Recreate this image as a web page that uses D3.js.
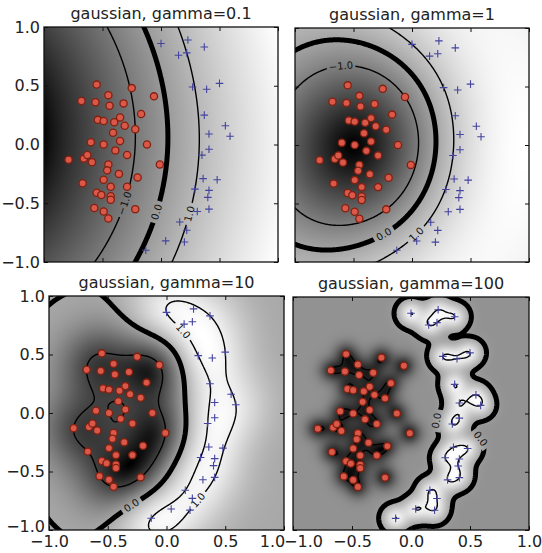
<!DOCTYPE html>
<html>
<head>
<meta charset="utf-8">
<script src="https://cdn.jsdelivr.net/npm/d3@7"></script>
<style>
  body { margin: 0; background: #fff; }
  svg { display: block; }
  text { font-family: "DejaVu Sans", sans-serif; }
</style>
</head>
<body>
<svg id="chart" width="542" height="553"></svg>
<script>
// class -1 points (red circles)
var negPoints = [
  [-0.55, 0.51], [-0.25, 0.48], [-0.68, 0.37], [-0.56, 0.36], [-0.45, 0.42],
  [-0.44, 0.33], [-0.32, 0.35], [-0.06, 0.41], [-0.17, 0.26], [-0.54, 0.21],
  [-0.49, 0.20], [-0.40, 0.19], [-0.35, 0.23], [-0.31, 0.16], [-0.22, 0.13],
  [-0.41, 0.10], [-0.35, 0.03], [-0.60, 0.02], [-0.49, 0.00], [-0.39, -0.05],
  [-0.12, 0.00], [-0.79, -0.13], [-0.66, -0.12], [-0.63, -0.09], [-0.59, -0.15],
  [-0.29, -0.09], [-0.45, -0.17], [-0.46, -0.22], [-0.36, -0.25], [-0.01, -0.17],
  [-0.67, -0.33], [-0.49, -0.30], [-0.43, -0.36], [-0.29, -0.36], [-0.20, -0.28],
  [-0.55, -0.41], [-0.51, -0.43], [-0.43, -0.44], [-0.43, -0.47], [-0.57, -0.54],
  [-0.49, -0.57], [-0.45, -0.63], [-0.22, -0.55]
];

// class +1 points (blue crosses)
var posPoints = [
  [0.00, 0.86], [0.23, 0.89], [0.37, 0.83], [0.15, 0.76], [0.22, 0.78],
  [0.27, 0.49], [0.39, 0.47], [0.50, 0.52], [0.37, 0.25], [0.55, 0.16],
  [0.59, 0.07], [0.41, 0.09], [0.41, -0.04], [0.35, -0.09], [0.36, -0.29],
  [0.48, -0.30], [0.29, -0.38], [0.41, -0.39], [0.40, -0.45], [0.41, -0.55],
  [0.31, -0.57], [0.16, -0.66], [0.22, -0.73], [0.04, -0.82], [0.20, -0.83],
  [-0.13, -0.90]
];

var gammas = [0.1, 1, 10, 100];
var tickValues = [-1, -0.5, 0, 0.5, 1];
var levels = [-1, 0, 1];
var C = 10;

// panel boxes in pixels + where the inline contour labels go (data coords)
var panels = [
  {x0: 44, x1: 278, y0: 27, y1: 262, xLab: false, yLab: true,
   clabels: [[-1, -0.41, -0.47], [0, -0.03, -0.58], [1, 0.27, -0.60]]},
  {x0: 295, x1: 529, y0: 28, y1: 262, xLab: false, yLab: false,
   clabels: [[-1, -0.60, 0.57], [0, -0.26, -0.73], [1, 0.01, -0.74]]},
  {x0: 49, x1: 284, y0: 296, y1: 530, xLab: true, yLab: true,
   clabels: [[1, 0.13, 0.69], [1, 0.26, -0.74], [0, -0.29, -0.80]]},
  {x0: 293, x1: 529, y0: 297, y1: 530, xLab: true, yLab: false,
   clabels: [[0, 0.21, -0.06], [0, 0.61, -0.20]]}
];

var X = negPoints.concat(posPoints);
var Y = negPoints.map(function() { return -1; }).concat(posPoints.map(function() { return 1; }));

// SMO (second order working set selection), returns decision function
function trainSVM(pts, ys, gamma, C) {
  var n = pts.length, K = [];
  for (var i = 0; i < n; i++) {
    K[i] = new Float64Array(n);
    for (var j = 0; j < n; j++) {
      var dx = pts[i][0] - pts[j][0], dy = pts[i][1] - pts[j][1];
      K[i][j] = Math.exp(-gamma * (dx * dx + dy * dy));
    }
  }
  var a = new Float64Array(n), u = new Float64Array(n);
  var Emin, Emax;
  for (var it = 0; it < 300000; it++) {
    var ii = -1, jj = -1, best = Infinity, t, e;
    Emin = Infinity; Emax = -Infinity;
    for (t = 0; t < n; t++) {
      if ((ys[t] === 1 && a[t] < C) || (ys[t] === -1 && a[t] > 0)) {
        e = u[t] - ys[t];
        if (e < Emin) { Emin = e; ii = t; }
      }
    }
    for (t = 0; t < n; t++) {
      if ((ys[t] === -1 && a[t] < C) || (ys[t] === 1 && a[t] > 0)) {
        e = u[t] - ys[t];
        if (e > Emax) Emax = e;
        var bb = e - Emin;
        if (bb > 0) {
          var aa = K[ii][ii] + K[t][t] - 2 * K[ii][t];
          if (aa <= 0) aa = 1e-12;
          var obj = -bb * bb / aa;
          if (obj < best) { best = obj; jj = t; }
        }
      }
    }
    if (jj < 0 || Emax - Emin < 1e-4) break;
    var yi = ys[ii], yj = ys[jj], ai = a[ii], aj = a[jj], L, H;
    if (yi !== yj) { L = Math.max(0, aj - ai); H = Math.min(C, C + aj - ai); }
    else { L = Math.max(0, ai + aj - C); H = Math.min(C, ai + aj); }
    var eta = K[ii][ii] + K[jj][jj] - 2 * K[ii][jj];
    if (eta <= 0) eta = 1e-12;
    var Ei = u[ii] - yi, Ej = u[jj] - yj;
    var ajn = Math.min(H, Math.max(L, aj + yj * (Ei - Ej) / eta));
    var ain = ai + yi * yj * (aj - ajn);
    a[ii] = ain; a[jj] = ajn;
    var di = yi * (ain - ai), dj = yj * (ajn - aj);
    for (t = 0; t < n; t++) u[t] += di * K[ii][t] + dj * K[jj][t];
  }
  var sum = 0, cnt = 0;
  for (var s = 0; s < n; s++) {
    if (a[s] > 1e-8 && a[s] < C - 1e-8) { sum += ys[s] - u[s]; cnt++; }
  }
  var b = cnt ? sum / cnt : -(Emin + Emax) / 2;
  var sv = [];
  for (s = 0; s < n; s++) if (a[s] > 1e-10) sv.push([pts[s][0], pts[s][1], a[s] * ys[s]]);
  return function(x, y) {
    var f = b;
    for (var k = 0; k < sv.length; k++) {
      var dx = x - sv[k][0], dy = y - sv[k][1];
      f += sv[k][2] * Math.exp(-gamma * (dx * dx + dy * dy));
    }
    return f;
  };
}

var svg = d3.select("#chart");
var defs = svg.append("defs");
var fmt = d3.format(".1f");

panels.forEach(function(p, k) {
  var gamma = gammas[k];
  var f = trainSVM(X, Y, gamma, C);
  var x = d3.scaleLinear().domain([-1, 1]).range([p.x0, p.x1]);
  var y = d3.scaleLinear().domain([-1, 1]).range([p.y1, p.y0]);
  var w = Math.round(p.x1 - p.x0), h = Math.round(p.y1 - p.y0);

  // background image of the decision function
  var vals = new Float64Array(w * h), zmin = Infinity, zmax = -Infinity;
  for (var r = 0; r < h; r++) {
    for (var c = 0; c < w; c++) {
      var v = f(x.invert(p.x0 + c + 0.5), y.invert(p.y0 + r + 0.5));
      vals[r * w + c] = v;
      if (v < zmin) zmin = v;
      if (v > zmax) zmax = v;
    }
  }
  // the scan is lighter in the mid tones than a linear gray ramp
  var norm = d3.scaleLinear().domain([zmin, zmax]).range([0, 1]).clamp(true);
  var tone = d3.scalePow().exponent(0.65).domain([0, 1]).range([0, 255]);
  var canvas = document.createElement("canvas");
  canvas.width = w; canvas.height = h;
  var ctx = canvas.getContext("2d");
  var img = ctx.createImageData(w, h);
  for (var q = 0; q < w * h; q++) {
    var g = Math.round(tone(norm(vals[q])));
    img.data[4 * q] = g; img.data[4 * q + 1] = g; img.data[4 * q + 2] = g; img.data[4 * q + 3] = 255;
  }
  ctx.putImageData(img, 0, 0);

  var panel = svg.append("g");
  defs.append("clipPath").attr("id", "clip" + k)
    .append("rect").attr("x", p.x0).attr("y", p.y0).attr("width", p.x1 - p.x0).attr("height", p.y1 - p.y0);

  panel.append("image")
    .attr("x", p.x0).attr("y", p.y0)
    .attr("width", p.x1 - p.x0).attr("height", p.y1 - p.y0)
    .attr("preserveAspectRatio", "none")
    .attr("href", canvas.toDataURL());

  // contours on a grid a bit larger than the box, clipped
  var n = 260, lo = -1.06, hi = 1.06, step = (hi - lo) / n;
  var grid = new Float64Array(n * n);
  for (var j = 0; j < n; j++)
    for (var i = 0; i < n; i++)
      grid[j * n + i] = f(lo + (i + 0.5) * step, hi - (j + 0.5) * step);
  var contours = d3.contours().size([n, n]).thresholds(levels)(grid);
  var toPx = function(pt) { return [x(lo + pt[0] * step), y(hi - pt[1] * step)]; };
  var path = d3.geoPath(d3.geoTransform({
    point: function(px, py) { var q2 = toPx([px, py]); this.stream.point(q2[0], q2[1]); }
  }));

  // inline labels: snap to nearest point of the level's contour
  var mask = defs.append("mask").attr("id", "mask" + k)
    .attr("maskUnits", "userSpaceOnUse")
    .attr("x", 0).attr("y", 0).attr("width", 542).attr("height", 553);
  mask.append("rect").attr("x", 0).attr("y", 0).attr("width", 542).attr("height", 553).attr("fill", "#fff");

  var labels = [];
  p.clabels.forEach(function(cl) {
    var cont = contours[levels.indexOf(cl[0])];
    var tx = x(cl[1]), ty = y(cl[2]), bestD = Infinity, bp = null, ang = 0;
    cont.coordinates.forEach(function(poly) {
      poly.forEach(function(ring) {
        var pr = ring.map(toPx);
        for (var m = 0; m < pr.length; m++) {
          var d = (pr[m][0] - tx) * (pr[m][0] - tx) + (pr[m][1] - ty) * (pr[m][1] - ty);
          if (d < bestD) {
            bestD = d; bp = pr[m];
            var a0 = pr[Math.max(0, m - 4)], a1 = pr[Math.min(pr.length - 1, m + 4)];
            ang = Math.atan2(a1[1] - a0[1], a1[0] - a0[0]) * 180 / Math.PI;
          }
        }
      });
    });
    if (!bp) return;
    if (ang > 90) ang -= 180;
    if (ang <= -90) ang += 180;
    var txt = fmt(cl[0]);
    var len = txt.length * 6.2;
    mask.append("rect")
      .attr("x", -len / 2 - 2).attr("y", -6).attr("width", len + 4).attr("height", 12)
      .attr("transform", "translate(" + bp[0] + "," + bp[1] + ") rotate(" + ang + ")")
      .attr("fill", "#000");
    labels.push({x: bp[0], y: bp[1], a: ang, t: txt});
  });

  var cg = panel.append("g").attr("clip-path", "url(#clip" + k + ")");
  cg.append("g").attr("mask", "url(#mask" + k + ")")
    .selectAll("path").data(contours).enter().append("path")
    .attr("d", path)
    .attr("fill", "none")
    .attr("stroke", "#000")
    .attr("stroke-linejoin", "round")
    .attr("stroke-width", function(d) { return d.value === 0 ? 5 : 1.4; });

  cg.selectAll("text.cl").data(labels).enter().append("text")
    .attr("class", "cl")
    .attr("transform", function(d) { return "translate(" + d.x + "," + d.y + ") rotate(" + d.a + ")"; })
    .attr("text-anchor", "middle")
    .attr("dy", "0.35em")
    .attr("font-size", 10)
    .attr("fill", "#111")
    .text(function(d) { return d.t; });

  // points
  cg.selectAll("circle").data(negPoints).enter().append("circle")
    .attr("cx", function(d) { return x(d[0]); })
    .attr("cy", function(d) { return y(d[1]); })
    .attr("r", 3.6)
    .attr("fill", "#d9584a")
    .attr("stroke", "#84200f")
    .attr("stroke-width", 1.3);

  cg.selectAll("path.plus").data(posPoints).enter().append("path")
    .attr("class", "plus")
    .attr("d", function(d) {
      var px = x(d[0]), py = y(d[1]), s = 3.8;
      return "M" + (px - s) + "," + py + "H" + (px + s) + "M" + px + "," + (py - s) + "V" + (py + s);
    })
    .attr("stroke", "#44449e")
    .attr("stroke-width", 1.1);

  // axes with inward ticks on all four sides
  var noLab = function() { return ""; };
  var axB = panel.append("g").attr("transform", "translate(0," + p.y1 + ")")
    .call(d3.axisBottom(x).tickValues(tickValues).tickSizeInner(-4).tickSizeOuter(0).tickPadding(6)
      .tickFormat(p.xLab ? fmt : noLab));
  var axT = panel.append("g").attr("transform", "translate(0," + p.y0 + ")")
    .call(d3.axisTop(x).tickValues(tickValues).tickSizeInner(-4).tickSizeOuter(0).tickFormat(noLab));
  var axL = panel.append("g").attr("transform", "translate(" + p.x0 + ",0)")
    .call(d3.axisLeft(y).tickValues(tickValues).tickSizeInner(-4).tickSizeOuter(0).tickPadding(4)
      .tickFormat(p.yLab ? fmt : noLab));
  var axR = panel.append("g").attr("transform", "translate(" + p.x1 + ",0)")
    .call(d3.axisRight(y).tickValues(tickValues).tickSizeInner(-4).tickSizeOuter(0).tickFormat(noLab));
  [axB, axT, axL, axR].forEach(function(ax) {
    ax.select(".domain").remove();
    ax.selectAll("line").attr("stroke", "#111");
    ax.selectAll("text").attr("font-size", 16).attr("font-family", "DejaVu Sans").attr("fill", "#222");
  });
  // neighbouring end labels are pushed apart, as in the original figure
  if (p.xLab) {
    axB.selectAll(".tick text").attr("dx", function(d) {
      if (k === 2 && d === 1) return -12;
      if (k === 3 && d === -1) return 10;
      return 0;
    });
  }
  if (k === 2) axL.selectAll(".tick text").attr("dy", function(d) { return d === -1 ? "0.1em" : "0.32em"; });

  panel.append("rect")
    .attr("x", p.x0).attr("y", p.y0).attr("width", p.x1 - p.x0).attr("height", p.y1 - p.y0)
    .attr("fill", "none").attr("stroke", "#111").attr("stroke-width", 1.3);

  panel.append("text")
    .attr("x", (p.x0 + p.x1) / 2).attr("y", p.y0 - 8)
    .attr("text-anchor", "middle")
    .attr("font-size", 16)
    .attr("fill", "#222")
    .text("gaussian, gamma=" + gamma);
});
</script>
</body>
</html>
